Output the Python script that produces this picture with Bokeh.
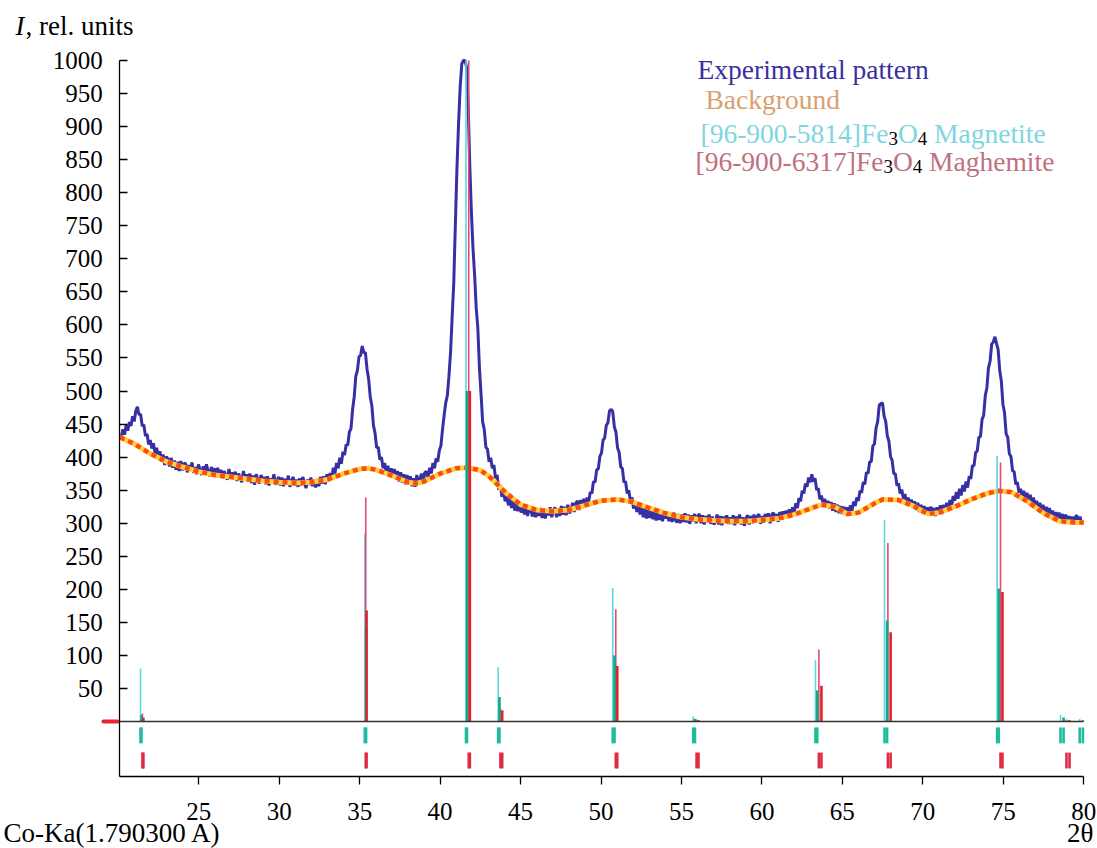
from bokeh.plotting import figure
from bokeh.models import Label, FixedTicker, Range1d
from bokeh.embed import file_html
from bokeh.resources import INLINE

# ---------------- data ----------------
x_ticks = [25, 30, 35, 40, 45, 50, 55, 60, 65, 70, 75, 80]
y_ticks = [50, 100, 150, 200, 250, 300, 350, 400, 450, 500, 550, 600, 650, 700, 750, 800, 850, 900, 950, 1000]

exp_start = 20.19
exp_step = 0.0998
exp_y = [
    431, 442, 434, 448, 440, 453, 447, 462, 454, 470,
    476, 464, 465, 447, 449, 432, 435, 419, 426, 413,
    421, 405, 414, 399, 409, 393, 404, 388, 401, 397,
    386, 399, 384, 395, 381, 393, 379, 394, 380, 391,
    390, 377, 388, 380, 392, 376, 385, 374, 389, 381,
    373, 386, 375, 389, 378, 371, 385, 376, 383, 370,
    384, 370, 381, 368, 379, 372, 366, 382, 369, 377,
    366, 378, 364, 375, 369, 362, 379, 367, 374, 363,
    375, 361, 372, 358, 374, 366, 360, 373, 363, 370,
    359, 371, 357, 368, 362, 374, 358, 365, 370, 357,
    369, 356, 367, 360, 372, 355, 364, 370, 357, 366,
    355, 368, 357, 370, 361, 353, 366, 358, 369, 356,
    366, 354, 367, 356, 370, 360, 371, 359, 374, 365,
    376, 367, 384, 375, 391, 383, 399, 390, 408, 403,
    419, 418, 438, 443, 472, 491, 522, 531, 552, 554,
    568, 558, 558, 533, 518, 491, 478, 448, 436, 414,
    415, 396, 400, 383, 391, 376, 387, 371, 383, 369,
    382, 368, 379, 363, 377, 361, 374, 359, 373, 360,
    371, 356, 368, 355, 373, 359, 368, 375, 362, 377,
    378, 369, 384, 375, 391, 383, 398, 393, 410, 417,
    442, 463, 482, 493, 522, 558, 612, 663, 752, 838,
    905, 960, 995, 1000, 1000, 990, 930, 840, 770, 715,
    675, 625, 595, 535, 495, 453, 442, 415, 412, 393,
    399, 383, 388, 368, 373, 351, 358, 340, 349, 333,
    342, 327, 338, 323, 335, 319, 333, 318, 331, 316,
    328, 313, 327, 311, 324, 320, 310, 324, 309, 322,
    311, 323, 308, 321, 307, 320, 312, 324, 309, 319,
    324, 309, 322, 311, 326, 313, 325, 312, 328, 315,
    319, 331, 317, 330, 334, 320, 335, 323, 337, 325,
    339, 332, 347, 345, 363, 362, 381, 382, 401, 406,
    426, 429, 448, 452, 470, 472, 469, 446, 438, 414,
    407, 385, 383, 362, 363, 345, 350, 333, 339, 322,
    333, 317, 330, 313, 327, 309, 323, 307, 322, 308,
    320, 306, 318, 304, 317, 305, 320, 303, 316, 307,
    317, 303, 315, 302, 316, 305, 301, 314, 300, 313,
    302, 315, 301, 313, 299, 312, 303, 314, 300, 311,
    314, 300, 312, 298, 311, 302, 313, 299, 310, 298,
    302, 313, 298, 311, 297, 310, 301, 312, 299, 309,
    299, 312, 297, 310, 301, 313, 298, 309, 296, 308,
    312, 298, 311, 300, 313, 301, 310, 314, 299, 311,
    301, 314, 303, 315, 300, 312, 316, 304, 314, 302,
    317, 306, 318, 307, 319, 309, 321, 312, 324, 316,
    330, 323, 338, 333, 349, 345, 360, 355, 369, 362,
    374, 363, 368, 350, 353, 336, 342, 329, 337, 325,
    334, 322, 332, 319, 330, 317, 328, 315, 326, 314,
    325, 313, 324, 314, 327, 319, 333, 326, 339, 334,
    349, 346, 362, 359, 377, 375, 393, 393, 417, 420,
    444, 454, 479, 481, 482, 462, 454, 432, 424, 401,
    395, 375, 375, 357, 360, 345, 351, 337, 344, 331,
    339, 326, 336, 323, 333, 320, 331, 317, 328, 315,
    326, 313, 324, 312, 325, 314, 323, 311, 324, 315,
    327, 314, 328, 317, 331, 320, 335, 325, 341, 334,
    347, 337, 352, 342, 358, 348, 363, 354, 371, 367,
    387, 387, 407, 409, 430, 431, 457, 463, 493, 505,
    535, 545, 571, 574, 582, 572, 563, 531, 515, 480,
    467, 435, 430, 405, 401, 379, 378, 359, 362, 346,
    352, 339, 349, 335, 346, 332, 343, 328, 339, 325,
    334, 320, 331, 317, 328, 314, 325, 311, 323, 309,
    319, 306, 317, 304, 316, 303, 314, 302, 313, 301,
    311, 299, 310, 298, 309, 312, 300, 310, 299,
]
exp_x = [round(exp_start + exp_step * i, 4) for i in range(len(exp_y))]

bg_x = [20.1, 21, 22, 23, 24, 25, 26, 27, 28, 29, 30, 31, 32, 33, 34, 35, 35.5, 36, 37, 38,
        38.5, 39, 40, 41, 41.7, 42.5, 43, 44, 45, 46, 47, 48, 49, 50, 51, 52, 53, 54, 55, 56,
        57, 58, 59, 60, 61, 62, 63, 63.7, 64.5, 65.3, 66, 67, 67.5, 68.5, 69.5, 70.3, 71, 72, 73, 74,
        74.7, 75.5, 76.5, 77.5, 78.5, 79.5, 80]
bg_y = [430, 420, 405, 393, 385, 378, 373, 370, 367, 364, 362, 361, 362, 366, 375, 382, 383, 381, 372, 362,
        360, 363, 375, 383, 384, 380, 372, 348, 328, 320, 318, 320, 327, 334, 336, 332, 323, 315, 309, 306,
        304, 303, 303, 305, 307, 313, 322, 328, 325, 314, 316, 330, 336, 335, 325, 314, 316, 325, 336, 345,
        349, 347, 333, 315, 303, 301, 301]

# Magnetite [96-900-5814] Ka1 / Ka2 reflections
mag_k1_pos = [21.38, 35.32, 41.61, 43.61, 50.73, 55.73, 63.33, 67.62, 74.62, 78.56, 79.75]
mag_k1_int = [80, 284, 1000, 82, 202, 8, 93, 305, 402, 10, 4]
mag_k2_pos = [21.44, 35.40, 41.67, 43.69, 50.84, 55.84, 63.44, 67.78, 74.72, 78.75, 79.95]
mag_k2_int = [10, 142, 500, 37, 100, 4, 47, 153, 201, 6, 2]

# Maghemite [96-900-6317] Ka1 / Ka2 reflections
mgh_k1_pos = [21.50, 35.38, 41.78, 43.75, 50.92, 55.94, 63.54, 67.83, 74.83, 78.93]
mgh_k1_int = [12, 339, 1000, 20, 170, 3, 109, 270, 392, 3]
mgh_k2_pos = [21.56, 35.43, 41.85, 43.86, 51.01, 56.06, 63.70, 68.00, 74.95, 79.12]
mgh_k2_int = [6, 168, 500, 17, 84, 2, 54, 135, 196, 2]

# small red lead-in mark left of the axis at zero level
lead_x = [19.08, 19.95]
lead_y = [0, 0]

# ---------------- layout ----------------
W, H = 1097, 848
PX_PER_X, PX_AT_20 = 16.09, 117.8     # page px per degree, page x of 20 deg
PX_PER_Y, PY_AT_0 = 0.661, 721.0      # page px per unit, page y of 0
TXT_DY = 9                            # renderer draws alphabetic baseline this much lower


def px2x(px):
    return 20 + (px - PX_AT_20) / PX_PER_X


def py2y(py):
    return (PY_AT_0 - py) / PX_PER_Y


X_AX = px2x(119.3)   # where the y axis sits
Y_AX = py2y(776.0)   # where the x axis sits
X_END, Y_END = 80.0, 1000.0

SERIF = "Liberation Serif"

p = figure(width=W, height=H,
           x_range=Range1d(px2x(0), px2x(W)), y_range=Range1d(py2y(H), py2y(0)),
           output_backend="svg", toolbar_location=None,
           min_border_left=0, min_border_right=0, min_border_top=0, min_border_bottom=0)
p.outline_line_color = None
p.grid.visible = False
p.background_fill_color = "white"
p.border_fill_color = "white"

p.xaxis.fixed_location = Y_AX
p.yaxis.fixed_location = X_AX
p.xaxis.bounds = (X_AX, X_END)
p.yaxis.bounds = (Y_AX, Y_END)
p.xaxis.ticker = FixedTicker(ticks=x_ticks)
p.yaxis.ticker = FixedTicker(ticks=y_ticks)
for ax in (p.xaxis[0], p.yaxis[0]):
    ax.axis_line_color = "black"
    ax.axis_line_width = 1.3
    ax.major_tick_line_color = "black"
    ax.major_tick_line_width = 1.3
    ax.minor_tick_line_color = None
    ax.major_label_text_font = SERIF
    ax.major_label_text_font_size = "25px"
    ax.major_label_text_color = "black"
p.xaxis.major_tick_in = 0
p.xaxis.major_tick_out = 8
p.xaxis.major_label_standoff = 18
p.yaxis.major_tick_in = 8
p.yaxis.major_tick_out = 0
p.yaxis.major_label_standoff = 17

# experimental pattern
p.line(exp_x, exp_y, line_color="#3630a4", line_width=3)
# background: yellow underlay + orange dots
p.line(bg_x, bg_y, line_color="#ffd23c", line_width=5)
p.line(bg_x, bg_y, line_color="#ff4a10", line_width=4.5, line_dash="5 4")

# reflection sticks
p.segment(x0=mag_k1_pos, y0=[0] * len(mag_k1_pos), x1=mag_k1_pos, y1=mag_k1_int,
          line_color="#5fd6e0", line_width=1.6)
p.segment(x0=mgh_k1_pos, y0=[0] * len(mgh_k1_pos), x1=mgh_k1_pos, y1=mgh_k1_int,
          line_color="#e24a78", line_width=1.6)
p.segment(x0=mag_k2_pos, y0=[0] * len(mag_k2_pos), x1=mag_k2_pos, y1=mag_k2_int,
          line_color="#13a886", line_width=2.6)
p.segment(x0=mgh_k2_pos, y0=[0] * len(mgh_k2_pos), x1=mgh_k2_pos, y1=mgh_k2_int,
          line_color="#e0242c", line_width=2.6)

# zero line
p.line([X_AX, X_END], [0, 0], line_color="#333333", line_width=1.6)
p.line(lead_x, lead_y, line_color="#e8242c", line_width=4, line_cap="round")

# hkl position markers
mag_marks = mag_k1_pos + mag_k2_pos
mgh_marks = mgh_k1_pos + mgh_k2_pos
p.segment(x0=mag_marks, y0=[-9] * len(mag_marks), x1=mag_marks, y1=[-33] * len(mag_marks),
          line_color="#1cbc9c", line_width=2.6)
p.segment(x0=mgh_marks, y0=[-47] * len(mgh_marks), x1=mgh_marks, y1=[-71] * len(mgh_marks),
          line_color="#e02a44", line_width=2.6)


def lab(text, px, py, color="black", size=27, style="normal", align="left"):
    p.add_layout(Label(x=px2x(px), y=py2y(py - TXT_DY), text=text, text_font=SERIF,
                       text_font_size=f"{size}px", text_font_style=style, text_color=color,
                       text_align=align, text_baseline="alphabetic"))


# axis titles
lab("I", 15, 34, style="italic")
lab(", rel. units", 25, 34)
lab("Co-Ka(1.790300 A)", 3, 841)
lab("2θ", 1093, 841, align="right")

# legend
S, SS = 27.5, 19
lab("Experimental pattern", 697, 78, color="#3a2f9e", size=S)
lab("Background", 705, 108, color="#d9a070", size=S)

c3 = "#7fd6de"
x = 700
lab("[96-900-5814]Fe", x, 142, color=c3, size=S)
x += 6.832 * S
lab("3", x, 147, size=SS)
x += 0.5 * SS
lab("O", x, 142, color=c3, size=S)
x += 0.722 * S
lab("4", x, 147, size=SS)
x += 0.5 * SS + 0.25 * S
lab("Magnetite", x, 142, color=c3, size=S)

c4 = "#c0707e"
x = 695
lab("[96-900-6317]Fe", x, 170, color=c4, size=S)
x += 6.832 * S
lab("3", x, 175, size=SS)
x += 0.5 * SS
lab("O", x, 170, color=c4, size=S)
x += 0.722 * S
lab("4", x, 175, size=SS)
x += 0.5 * SS + 0.25 * S
lab("Maghemite", x, 170, color=c4, size=S)

open("out.html", "w").write(file_html(p, INLINE))
